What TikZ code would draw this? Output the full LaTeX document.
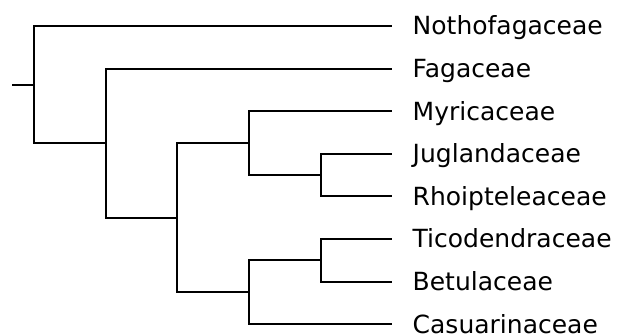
\documentclass[tikz,border=0pt]{standalone}
\usepackage{fontspec}
\setmainfont{DejaVu Sans}
\usetikzlibrary{positioning,calc}
\tikzset{
  branch/.style={line width=2pt},
  taxon/.style={
    anchor=base west,
    inner sep=0pt,
    font=\fontsize{25}{30}\selectfont
  }
}

\begin{document}
\begin{tikzpicture}[x=1pt,y=-1pt]
\useasboundingbox (0,0) rectangle (620,336);
% tips and labels
\foreach \name/\txt [count=\i from 0] in {notho/Nothofagaceae,fag/Fagaceae,myr/Myricaceae,jug/Juglandaceae,rho/Rhoipteleaceae,tic/Ticodendraceae,bet/Betulaceae,cas/Casuarinaceae}{
  \coordinate (\name) at (392,26+42.6*\i);
  \node (\name-txt) [taxon] at (412.5,35+42.6*\i) {\txt};
}
% inner nodes
\coordinate (stub) at (12,84.6);
\coordinate (root) at (34,84.6);
\coordinate (n1)   at (106,143.2);
\coordinate (n2)   at (177,217.7);
\coordinate (n3)   at (249,143.2);
\coordinate (n4)   at (321,175.1);
\coordinate (n5)   at (249,292.3);
\coordinate (n6)   at (321,260.3);
\draw[branch] (stub) -- (root);
\draw[branch] (root) |- (notho);
\draw[branch] (root) |- (n1);
\draw[branch] (n1) |- (fag);
\draw[branch] (n1) |- (n2);
\draw[branch] (n2) |- (n3);
\draw[branch] (n2) |- (n5);
\draw[branch] (n3) |- (myr);
\draw[branch] (n3) |- (n4);
\draw[branch] (n4) |- (jug);
\draw[branch] (n4) |- (rho);
\draw[branch] (n5) |- (n6);
\draw[branch] (n5) |- (cas);
\draw[branch] (n6) |- (tic);
\draw[branch] (n6) |- (bet);
\end{tikzpicture}
\end{document}
